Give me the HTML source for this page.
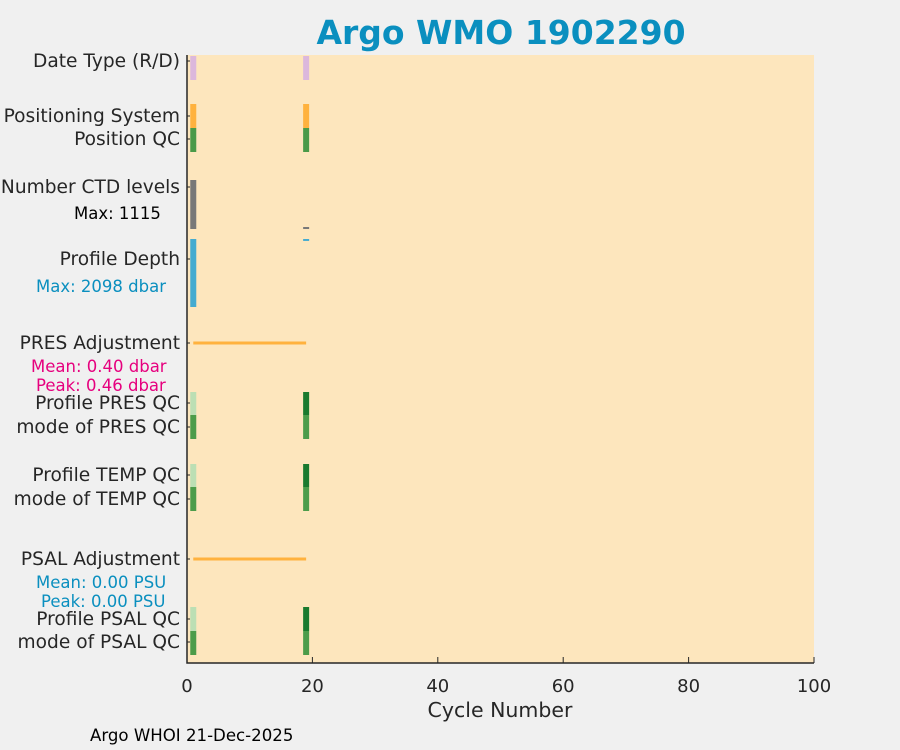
<!DOCTYPE html>
<html><head><meta charset="utf-8"><style>
body{margin:0;background:#f0f0f0;font-family:"DejaVu Sans","Liberation Sans",sans-serif;}
svg{display:block}
</style></head><body>
<svg id="c" width="900" height="750" xmlns="http://www.w3.org/2000/svg">
<rect x="0" y="0" width="900" height="750" fill="#f0f0f0"/>
<text x="501" y="44" text-anchor="middle" font-size="33" font-weight="bold" fill="#0a8fbf">Argo WMO 1902290</text>
<rect x="187" y="55" width="627" height="608" fill="#fde6bd"/>
<g id="marks"></g>
<g id="axes"></g>
<text x="500" y="717" text-anchor="middle" font-size="20.5" fill="#262626">Cycle Number</text>
<text x="90" y="741" font-size="16.6" fill="#000">Argo WHOI 21-Dec-2025</text>
</svg>
<script>
const cycles = [1, 19];
const ctdLevels = [1115, 45];
const profileDepth = [2098, 60];
const presQC = ["light", "dark"];
const tempQC = ["light", "dark"];
const psalQC = ["light", "dark"];
const adjCycles = [1, 19];
const xTicks = [0, 20, 40, 60, 80, 100];
const rowLabels = ["Date Type (R/D)","Positioning System","Position QC","Number CTD levels","Profile Depth","PRES Adjustment","Profile PRES QC","mode of PRES QC","Profile TEMP QC","mode of TEMP QC","PSAL Adjustment","Profile PSAL QC","mode of PSAL QC"];
const rowY = [61,116,139,187,259,343,403,427,475,499,559,619,642];

const NS="http://www.w3.org/2000/svg";
const x = v => 187 + v*6.27;
const marks=document.getElementById('marks');
const axes=document.getElementById('axes');
function mk(tag,at,parent){const e=document.createElementNS(NS,tag);for(const k in at)e.setAttribute(k,at[k]);parent.appendChild(e);return e;}
function bar(c,y0,h,fill,name){const r=mk('rect',{x:x(c)-3,y:y0,width:6,height:h,fill:fill},marks);

}
const qcCol={light:"#bcdfb4",dark:"#1a7a2e"};
cycles.forEach((c,i)=>{
 bar(c,56,24,"#dcb8dc","date-type-bar");
 bar(c,104,24,"#ffb23e","positioning-bar");
 bar(c,128,24,"#4a9a48","position-qc-bar");
 const hC=ctdLevels[i]/1115*49; bar(c,229-hC,hC,"#787878","ctd-levels-bar");
 const hD=profileDepth[i]/2098*68; bar(c,239,hD,"#44abd0","profile-depth-bar");
 bar(c,392,23,qcCol[presQC[i]],"pres-qc-bar"); bar(c,415,24,"#4c9c4a","pres-qc-mode-bar");
 bar(c,464,23,qcCol[tempQC[i]],"temp-qc-bar"); bar(c,487,24,"#4c9c4a","temp-qc-mode-bar");
 bar(c,607,24,qcCol[psalQC[i]],"psal-qc-bar"); bar(c,631,24,"#4c9c4a","psal-qc-mode-bar");
});
[343,559].forEach((y,k)=>{const l=mk('line',{x1:x(adjCycles[0]),x2:x(adjCycles[adjCycles.length-1]),y1:y,y2:y,stroke:"#ffb23e","stroke-width":3},marks);

});
const ax=mk('path',{d:"M187,55 V663 H814",fill:"none",stroke:"#262626","stroke-width":1.5},axes);


xTicks.forEach(t=>{
 const l=mk('line',{x1:x(t),x2:x(t),y1:663,y2:657,stroke:"#262626","stroke-width":1},axes);
 
 
 const tx=mk('text',{x:x(t),y:692,"text-anchor":"middle","font-size":18,fill:"#262626"},axes);tx.textContent=t;
 
 
});
rowLabels.forEach((s,i)=>{
 const l=mk('line',{x1:187,x2:190,y1:rowY[i],y2:rowY[i],stroke:"#262626","stroke-width":1},axes);
 
 
 const tx=mk('text',{x:180,y:rowY[i]+6,"text-anchor":"end","font-size":18.6,fill:"#262626"},axes);tx.textContent=s;
 
 
});
const notes=[["Max: 1115",74,219,"#000"],["Max: 2098 dbar",36,292,"#0a8fbf"],["Mean: 0.40 dbar",31,372,"#e6007e"],["Peak: 0.46 dbar",36,391,"#e6007e"],["Mean: 0.00 PSU",36,588,"#0a8fbf"],["Peak: 0.00 PSU",41,607,"#0a8fbf"]];
notes.forEach(n=>{const t=mk('text',{x:n[1],y:n[2],"font-size":16.5,fill:n[3]},axes);t.textContent=n[0];
 
 });
</script>
</body></html>
